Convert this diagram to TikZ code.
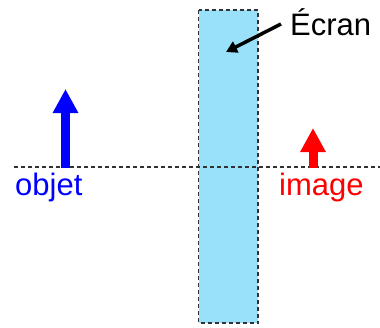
\documentclass[tikz,border=0pt]{standalone}
\usepackage{fontspec}
\setmainfont{Liberation Sans}
\usetikzlibrary{arrows.meta}
\definecolor{ecranbleu}{RGB}{153,224,250}
\definecolor{pointille}{RGB}{50,50,50}
\begin{document}
\begin{tikzpicture}[x=1pt,y=-1pt,
    tirets/.style={draw=pointille,line width=1.2pt,dash pattern=on 4pt off 3pt},
    grosse/.style={line width=9pt,-{Triangle[width=24pt,length=24pt]}},
    texte/.style={inner sep=0pt,anchor=base west,font=\fontsize{31}{36}\selectfont}]
  \useasboundingbox (0,0) rectangle (380,327);
  \fill[ecranbleu] (198.5,10) rectangle (258,323);
  \draw[tirets] (198.5,10) rectangle (258,323);
  \draw[tirets] (14,167) -- (380,167);
  \draw[grosse,blue] (65.5,168) -- (65.5,89);
  \draw[grosse,red] (313,168) -- (313,128);
  \node[texte,blue] (objet) at (15,195) {objet};
  \node[texte,red] (image) at (279,195) {image};
  \node[texte] (ecran) at (290,35) {Écran};
  \coordinate (pointe) at (226,52);
  \draw[line width=3.5pt,-{Triangle[width=12pt,length=11pt]}]
      ([shift={(-9pt,11pt)}]ecran.base west) -- (pointe);
  %\draw[tirets] (0,167) -- (14,167);
\end{tikzpicture}
\end{document}
